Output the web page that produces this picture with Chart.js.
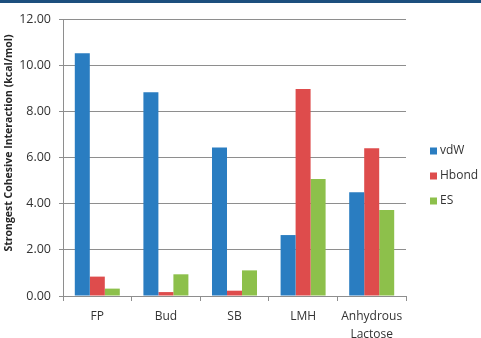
<!DOCTYPE html>
<html><head><meta charset="utf-8">
<script src="https://cdn.jsdelivr.net/npm/chart.js@4/dist/chart.umd.min.js"></script>
<style>
html,body{margin:0;padding:0;background:#fff;}
#wrap{position:relative;width:481px;height:338px;}
#band{position:absolute;left:0;top:0;width:481px;height:3px;background:#1c4f7e;}
canvas{position:absolute;left:0;top:0;}
</style></head>
<body>
<div id="wrap"><canvas id="c" width="481" height="338"></canvas><div id="band"></div></div>
<script>
const categories = ["FP", "Bud", "SB", "LMH", ["Anhydrous", "Lactose"]];
const seriesNames = ["vdW", "Hbond", "ES"];
const vdW = [10.52, 8.83, 6.43, 2.64, 4.49];
const Hbond = [0.84, 0.17, 0.23, 8.97, 6.40];
const ES = [0.32, 0.94, 1.11, 5.07, 3.73];
const colors = ["#2a7dc1", "#de4c4c", "#8dc04b"];
const yTitle = "Strongest Cohesive Interaction (kcal/mol)";

const FONT = "'Open Sans', sans-serif";
const gridColor = "#8e8e8e";

const customDecor = {
  id: "customDecor",
  afterDraw(chart) {
    const ctx = chart.ctx;
    ctx.save();
    // legend
    ctx.font = "12px " + FONT;
    ctx.textBaseline = "middle";
    ctx.textAlign = "left";
    chart.data.datasets.forEach((ds, i) => {
      const y = 151 + i * 25;
      ctx.fillStyle = ds.backgroundColor;
      ctx.fillRect(430, y - 3.5, 7, 7);
      ctx.fillStyle = "#333333";
      ctx.fillText(ds.label, 440, y);
    });
    // y title
    ctx.translate(9, 143);
    ctx.rotate(-Math.PI / 2);
    ctx.font = "bold 10.5px " + FONT;
    ctx.textAlign = "center";
    ctx.fillStyle = "#262626";
    ctx.fillText(yTitle, 0, 0);
    ctx.restore();
  }
};

new Chart(document.getElementById("c"), {
  type: "bar",
  data: {
    labels: categories,
    datasets: [
      { label: seriesNames[0], data: vdW, backgroundColor: colors[0] },
      { label: seriesNames[1], data: Hbond, backgroundColor: colors[1] },
      { label: seriesNames[2], data: ES, backgroundColor: colors[2] }
    ]
  },
  options: {
    responsive: false,
    animation: false,
    devicePixelRatio: 1,
    layout: { padding: { left: 0, right: 75, top: 19, bottom: 0 } },
    datasets: { bar: { categoryPercentage: 0.656, barPercentage: 1.0, borderWidth: 0 } },
    plugins: { legend: { display: false }, tooltip: { enabled: false } },
    scales: {
      x: {
        afterFit(s) { s.height = 42; },
        grid: { display: true, drawOnChartArea: false, offset: true, tickLength: 5, color: gridColor },
        border: { display: true, color: gridColor, width: 1 },
        ticks: { color: "#333333", font: { family: FONT, size: 12, lineHeight: 1.45 }, padding: 7, maxRotation: 0, autoSkip: false }
      },
      y: {
        min: 0, max: 12,
        afterFit(s) { s.width = 63; },
        ticks: { stepSize: 2, color: "#333333", font: { family: FONT, size: 12.5 }, padding: 8,
          callback: v => v.toFixed(2) },
        grid: { color: gridColor, tickLength: 4, lineWidth: 1 },
        border: { display: true, color: gridColor, width: 1 }
      }
    }
  },
  plugins: [customDecor]
});
</script>
</body></html>
